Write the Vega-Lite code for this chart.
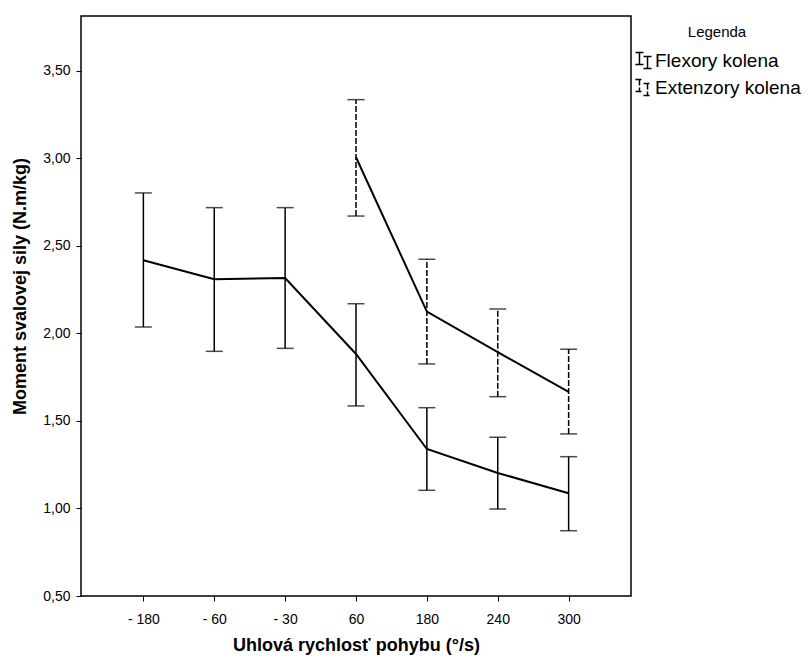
{
  "$schema": "https://vega.github.io/schema/vega-lite/v6.json",
  "width": 550,
  "height": 580,
  "autosize": {"type": "none"},
  "padding": {"left": 81, "top": 16, "right": 179, "bottom": 60},
  "background": "white",
  "data": {
    "values": [
      {"series": "Flexory kolena", "speed": "- 180", "mean": 2.418, "lo": 2.037, "hi": 2.803},
      {"series": "Flexory kolena", "speed": "- 60", "mean": 2.310, "lo": 1.898, "hi": 2.719},
      {"series": "Flexory kolena", "speed": "- 30", "mean": 2.317, "lo": 1.915, "hi": 2.719},
      {"series": "Flexory kolena", "speed": "60", "mean": 1.883, "lo": 1.586, "hi": 2.170},
      {"series": "Flexory kolena", "speed": "180", "mean": 1.340, "lo": 1.104, "hi": 1.576},
      {"series": "Flexory kolena", "speed": "240", "mean": 1.203, "lo": 0.997, "hi": 1.407},
      {"series": "Flexory kolena", "speed": "300", "mean": 1.087, "lo": 0.873, "hi": 1.296},
      {"series": "Extenzory kolena", "speed": "60", "mean": 3.007, "lo": 2.671, "hi": 3.336},
      {"series": "Extenzory kolena", "speed": "180", "mean": 2.125, "lo": 1.826, "hi": 2.424},
      {"series": "Extenzory kolena", "speed": "240", "mean": 1.893, "lo": 1.639, "hi": 2.140},
      {"series": "Extenzory kolena", "speed": "300", "mean": 1.667, "lo": 1.426, "hi": 1.910}
    ]
  },
  "encoding": {
    "x": {
      "field": "speed",
      "type": "ordinal",
      "scale": {"type": "point", "domain": ["- 180", "- 60", "- 30", "60", "180", "240", "300"], "padding": 0.88},
      "axis": {
        "title": "Uhlová rychlosť pohybu (°/s)",
        "labelAngle": 0,
        "labelFontSize": 14,
        "labelPadding": 11,
        "titleFontSize": 18,
        "titlePadding": 10,
        "tickSize": 5
      }
    }
  },
  "layer": [
    {
      "mark": {"type": "rule", "color": "black", "strokeWidth": 1.5},
      "encoding": {
        "y": {
          "field": "lo",
          "type": "quantitative",
          "scale": {"domain": [0.5, 3.814], "nice": false, "zero": false},
          "axis": {
            "title": "Moment svalovej sily (N.m/kg)",
            "values": [0.5, 1, 1.5, 2, 2.5, 3, 3.5],
            "labelExpr": "replace(format(datum.value, '.2f'), '.', ',')",
            "labelFontSize": 14,
            "labelPadding": 6,
            "tickSize": 5,
            "titleFontSize": 18,
            "titleX": -61,
            "titleY": 270,
            "titleBaseline": "middle"
          }
        },
        "y2": {"field": "hi"},
        "strokeDash": {
          "field": "series",
          "type": "nominal",
          "scale": {"domain": ["Flexory kolena", "Extenzory kolena"], "range": [[1, 0], [6, 2]]},
          "legend": {
            "title": "Legenda",
            "orient": "none",
            "legendX": 553,
            "legendY": 9,
            "titleFontSize": 15,
            "titleFontWeight": "normal",
            "titleAnchor": "middle",
            "titlePadding": 11,
            "labelFontSize": 19,
            "labelOffset": 2,
            "rowPadding": 4,
            "symbolType": "M-1,-1H0M-0.5,-1V0.5M-1,0.5H0M0,-0.5H1M0.5,-0.5V1M0,1H1",
            "symbolSize": 260,
            "symbolStrokeColor": "black",
            "symbolStrokeWidth": 1.5,
            "symbolFillColor": "transparent"
          }
        }
      }
    },
    {
      "mark": {"type": "tick", "color": "black", "size": 17, "thickness": 1.5, "orient": "horizontal"},
      "encoding": {"y": {"field": "hi", "type": "quantitative"}}
    },
    {
      "mark": {"type": "tick", "color": "black", "size": 17, "thickness": 1.5, "orient": "horizontal"},
      "encoding": {"y": {"field": "lo", "type": "quantitative"}}
    },
    {
      "mark": {"type": "line", "color": "black", "strokeWidth": 2},
      "encoding": {
        "y": {"field": "mean", "type": "quantitative"},
        "detail": {"field": "series"}
      }
    }
  ],
  "config": {
    "font": "Liberation Sans",
    "view": {"stroke": "black", "strokeWidth": 1.5},
    "axis": {
      "grid": false,
      "domain": false,
      "tickColor": "black",
      "labelColor": "black",
      "titleColor": "black",
      "titleFontWeight": "bold"
    },
    "legend": {"labelColor": "black", "titleColor": "black"}
  }
}
